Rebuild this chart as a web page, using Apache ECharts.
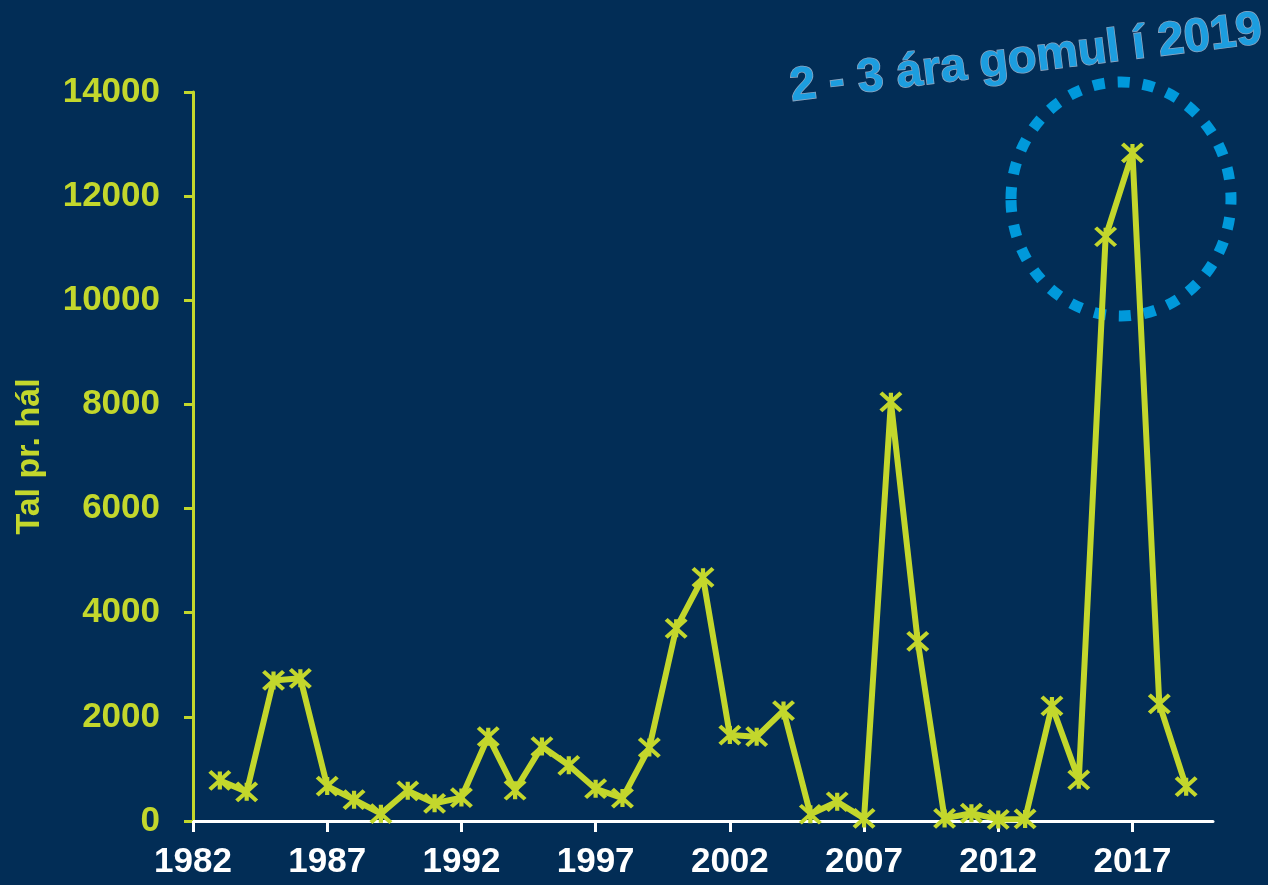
<!DOCTYPE html>
<html>
<head>
<meta charset="utf-8">
<script src="https://cdn.jsdelivr.net/npm/echarts@6/dist/echarts.min.js"></script>
<style>
  html, body { margin: 0; padding: 0; background: #022d56; }
  #chart { width: 1268px; height: 885px; }
</style>
</head>
<body>
<div id="chart"></div>
<script>
// ár (1982 - 2020), 1982 og 2020 uttan virði
var years = [];
for (var y = 1982; y <= 2020; y++) { years.push(String(y)); }

// tal pr. hál, 1983 - 2019
var talValues = [
  null,
  780, 560, 2700, 2740, 670, 410, 140, 580, 340, 450,
  1620, 590, 1430, 1070, 620, 440, 1410, 3700, 4680, 1650,
  1620, 2120, 130, 370, 50, 8050, 3450, 50, 150, 30,
  40, 2210, 790, 11220, 12830, 2250, 660,
  null
];

var yTicks = { min: 0, max: 14000, interval: 2000 };

var lime = '#c3d72c';
var fontArial = '"Liberation Sans", Arial, sans-serif';

var chart = echarts.init(document.getElementById('chart'));

var option = {
  backgroundColor: '#022d56',
  grid: { left: 193, right: 55, top: 92, bottom: 64, outerBoundsMode: 'none' },
  xAxis: {
    type: 'category',
    data: years,
    boundaryGap: false,
    axisLine: { lineStyle: { color: '#ffffff', width: 3 } },
    axisTick: { interval: 4, length: 11, lineStyle: { color: '#ffffff', width: 3 } },
    axisLabel: {
      interval: 4,
      color: '#ffffff',
      fontFamily: fontArial,
      fontWeight: 'bold',
      fontSize: 35,
      margin: 24
    },
    splitLine: { show: false }
  },
  yAxis: {
    type: 'value',
    min: yTicks.min,
    max: yTicks.max,
    interval: yTicks.interval,
    name: 'Tal pr. hál',
    nameLocation: 'middle',
    nameGap: 146,
    nameRotate: 90,
    nameTextStyle: {
      color: lime,
      fontFamily: fontArial,
      fontWeight: 'bold',
      fontSize: 34
    },
    axisLine: { show: true, lineStyle: { color: lime, width: 3 } },
    axisTick: { show: true, length: 9, lineStyle: { color: lime, width: 3 } },
    axisLabel: {
      color: lime,
      fontFamily: fontArial,
      fontWeight: 'bold',
      fontSize: 35,
      margin: 33,
      formatter: function (v) { return String(v); }
    },
    splitLine: { show: false }
  },
  series: [{
    type: 'line',
    data: talValues,
    showAllSymbol: true,
    symbol: 'path://M0,0L20,18M20,0L0,18M10,0L10,18',
    symbolSize: [20, 18],
    lineStyle: { color: lime, width: 6 },
    itemStyle: { color: lime, borderColor: lime, borderWidth: 4 },
    z: 3
  }],
  graphic: [
    {
      type: 'ellipse',
      shape: { cx: 1121, cy: 199, rx: 110, ry: 117 },
      style: { fill: 'none', stroke: '#0099db', lineWidth: 11, lineDash: [12, 13] },
      z: 1
    },
    {
      type: 'text',
      x: 1026,
      y: 59,
      rotation: 7 * Math.PI / 180,
      style: {
        text: '2 - 3 ára gomul í 2019',
        fill: '#1c9ddf',
        stroke: '#8fa6c0',
        lineWidth: 1.5,
        font: 'bold 47px "Liberation Sans", Arial, sans-serif',
        align: 'center',
        verticalAlign: 'middle'
      },
      z: 5
    }
  ]
};

chart.setOption(option);
</script>
</body>
</html>
